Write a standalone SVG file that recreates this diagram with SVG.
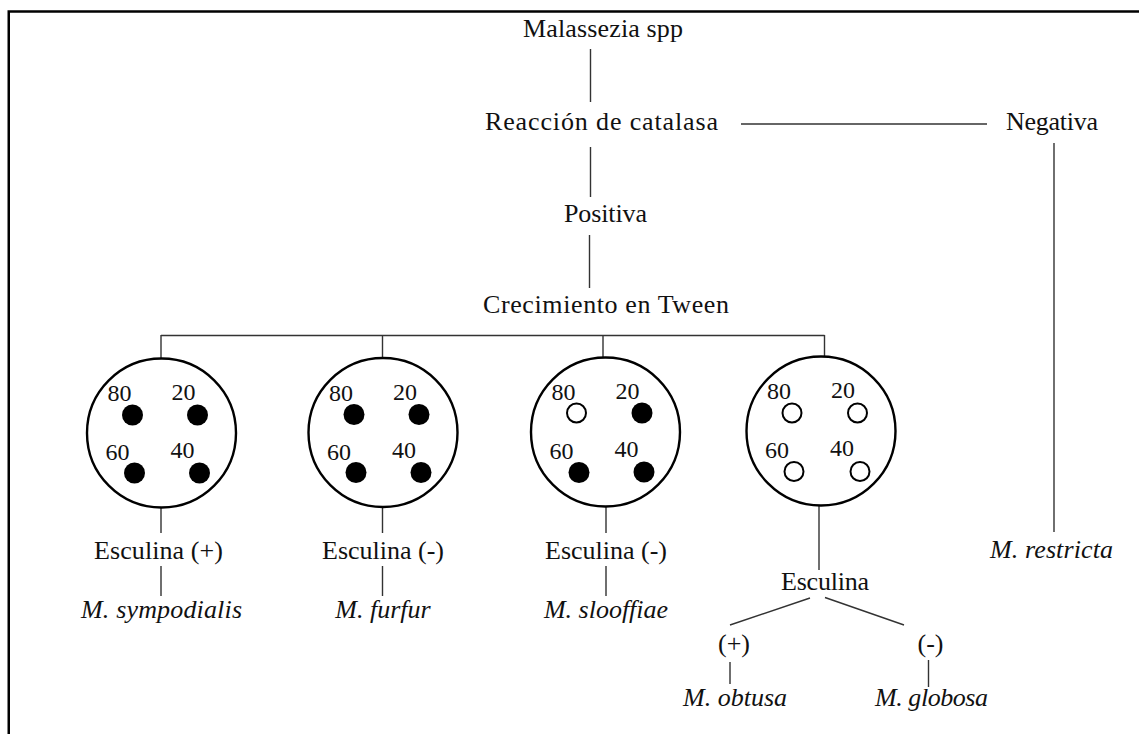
<svg xmlns="http://www.w3.org/2000/svg" width="1139" height="734" viewBox="0 0 1139 734">
<style>
text{font-family:"Liberation Serif","Times New Roman",serif;font-size:26px;fill:#111}
.d{font-size:24px}
.it{font-style:italic}
.c{text-anchor:middle}
.ln{stroke:#333;stroke-width:1.4;fill:none}
.plate{fill:#fff;stroke:#000;stroke-width:2.4}
.f{fill:#000}
.o{fill:#fff;stroke:#000;stroke-width:2}
</style>
<defs>
<g id="labels" class="d">
<text class="d" x="-54" y="-32">80</text>
<text class="d" x="10" y="-33">20</text>
<text class="d" x="-56" y="27">60</text>
<text class="d" x="9" y="25">40</text>
</g>
</defs>
<rect width="1139" height="734" fill="#fff"/>
<path d="M8.75 734V11.5H1139" fill="none" stroke="#000" stroke-width="2.5"/>
<g id="connectors" class="ln">
<path d="M590.5 49V102"/>
<path d="M741 124H987"/>
<path d="M590.5 147V197"/>
<path d="M589.5 235V288"/>
<path d="M1054 143V532"/>
<path d="M161 335.5H824.5M161 335V358M382.5 335V358M603 335V358M824.5 335V357"/>
<path d="M161 507V533M382.5 507V533M606 507V533M819 506V570"/>
<path d="M161 566V596M382.5 566V596M606 566V596"/>
<path d="M810 598L730 625M825 597.5L904 625"/>
<path d="M730 662V684M928.5 660V687"/>
</g>
<g id="n-malassezia"><text x="523" y="37" textLength="160" lengthAdjust="spacing">Malassezia spp</text></g>
<g id="n-catalasa"><text x="485" y="130" textLength="233" lengthAdjust="spacing">Reacción de catalasa</text></g>
<g id="n-negativa"><text x="1006" y="130" textLength="92" lengthAdjust="spacing">Negativa</text></g>
<g id="n-positiva"><text x="564" y="222" textLength="83" lengthAdjust="spacing">Positiva</text></g>
<g id="n-tween"><text x="483" y="313" textLength="246" lengthAdjust="spacing">Crecimiento en Tween</text></g>
<g id="plate1" transform="translate(161.5 433)">
<circle class="plate" r="74.5"/>
<use href="#labels"/>
<circle class="f" cx="-29" cy="-18" r="10.5"/><circle class="f" cx="36" cy="-18" r="10.5"/>
<circle class="f" cx="-27" cy="40" r="10.5"/><circle class="f" cx="38" cy="40" r="10.5"/>
</g>
<g id="plate2" transform="translate(383 432.5)">
<circle class="plate" r="74.5"/>
<use href="#labels"/>
<circle class="f" cx="-29" cy="-18" r="10.5"/><circle class="f" cx="36" cy="-18" r="10.5"/>
<circle class="f" cx="-27" cy="40" r="10.5"/><circle class="f" cx="38" cy="40" r="10.5"/>
</g>
<g id="plate3" transform="translate(605.5 432)">
<circle class="plate" r="74.5"/>
<use href="#labels"/>
<circle class="o" cx="-29" cy="-19" r="9.5"/><circle class="f" cx="36.5" cy="-19" r="10.5"/>
<circle class="f" cx="-26.5" cy="40.5" r="10.5"/><circle class="f" cx="38.5" cy="40" r="10.5"/>
</g>
<g id="plate4" transform="translate(821 431)">
<circle class="plate" r="74.5"/>
<use href="#labels"/>
<circle class="o" cx="-29" cy="-18" r="9.5"/><circle class="o" cx="36.5" cy="-18" r="9.5"/>
<circle class="o" cx="-27" cy="40.5" r="9.5"/><circle class="o" cx="39" cy="40.5" r="9.5"/>
</g>
<g id="n-esc1"><text x="94" y="559" textLength="129" lengthAdjust="spacing">Esculina (+)</text></g>
<g id="n-esc2"><text x="322" y="559" textLength="122" lengthAdjust="spacing">Esculina (-)</text></g>
<g id="n-esc3"><text x="545" y="559" textLength="122" lengthAdjust="spacing">Esculina (-)</text></g>
<g id="n-symp"><text class="it" x="81" y="618" textLength="161" lengthAdjust="spacing">M. sympodialis</text></g>
<g id="n-furfur"><text class="it c" x="383" y="618">M. furfur</text></g>
<g id="n-slooffiae"><text class="it c" x="606" y="618">M. slooffiae</text></g>
<g id="n-esc4"><text x="781" y="590" textLength="88" lengthAdjust="spacing">Esculina</text></g>
<g id="n-pos"><text class="c" x="734" y="652">(+)</text></g>
<g id="n-neg"><text class="c" x="930.5" y="652">(-)</text></g>
<g id="n-obtusa"><text class="it" x="683" y="706" textLength="104" lengthAdjust="spacing">M. obtusa</text></g>
<g id="n-globosa"><text class="it" x="875" y="706" textLength="113" lengthAdjust="spacing">M. globosa</text></g>
<g id="n-restricta"><text class="it" x="990" y="558" textLength="123" lengthAdjust="spacing">M. restricta</text></g>
</svg>
